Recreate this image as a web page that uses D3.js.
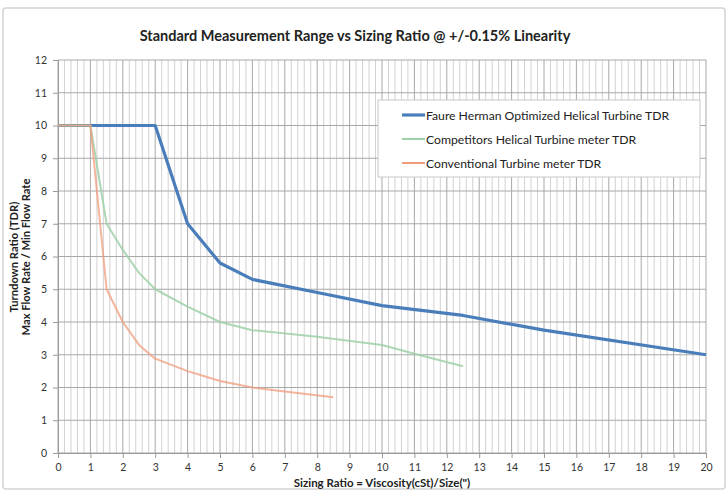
<!DOCTYPE html>
<html>
<head>
<meta charset="utf-8">
<script src="https://cdn.jsdelivr.net/npm/d3@7"></script>
<style>
  body { margin: 0; background: #fff; }
  text { font-family: Lato, "Open Sans", sans-serif; }
</style>
</head>
<body>
<div id="chart"></div>
<script>
const width = 728;
const height = 493;

// data
const faureX = [0, 1, 3, 4, 5, 6, 8, 10, 12.5, 15, 20];
const faureY = [10, 10, 10, 7, 5.8, 5.3, 4.9, 4.5, 4.2, 3.75, 3];
const compX = [0, 1, 1.5, 2, 2.5, 3, 4, 5, 6, 8, 10, 11, 12.5];
const compY = [10, 10, 7, 6.2, 5.5, 5, 4.47, 4, 3.75, 3.55, 3.3, 3.03, 2.65];
const convX = [0, 1, 1.5, 2, 2.5, 3, 4, 5, 6, 7, 8.5];
const convY = [10, 10, 5, 4, 3.3, 2.88, 2.5, 2.2, 2, 1.88, 1.7];

const seriesNames = [
    "Faure Herman Optimized Helical Turbine TDR",
    "Competitors Helical Turbine meter TDR",
    "Conventional Turbine meter TDR"
];
const seriesColors = ["#4a7ebb", "#9fd0a8", "#f29c7c"];
const xTicks = d3.range(0, 21, 1);
const yTicks = d3.range(0, 13, 1);

const series = [
    { name: seriesNames[0], color: seriesColors[0], width: 3.2, opacity: 1, pts: faureX.map((x, i) => ({ x: x, y: faureY[i] })) },
    { name: seriesNames[1], color: seriesColors[1], width: 2, opacity: 0.85, pts: compX.map((x, i) => ({ x: x, y: compY[i] })) },
    { name: seriesNames[2], color: seriesColors[2], width: 2, opacity: 0.75, pts: convX.map((x, i) => ({ x: x, y: convY[i] })) }
];

const xScale = d3.scaleLinear().domain([0, 20]).range([58, 706]);
const yScale = d3.scaleLinear().domain([0, 12]).range([453, 60]);

const svg = d3.select("#chart").append("svg").attr("width", width).attr("height", height);

// outer frame
svg.append("rect")
    .attr("x", 3).attr("y", 8)
    .attr("width", 722).attr("height", 481)
    .attr("rx", 3)
    .attr("fill", "#fff")
    .attr("stroke", "#d4d4d4")
    .attr("stroke-width", 1.5);

// title
svg.append("text")
    .attr("x", 355).attr("y", 41)
    .attr("text-anchor", "middle")
    .attr("font-size", 14.5)
    .attr("font-weight", "bold")
    .attr("fill", "#222")
    .text("Standard Measurement Range vs Sizing Ratio @ +/-0.15% Linearity");

// minor vertical grid (every 0.2)
const minor = d3.range(0, 100).map(i => i * 0.2).filter(v => Math.abs(v - Math.round(v)) > 0.01);
svg.append("g").selectAll("line")
    .data(minor)
    .join("line")
    .attr("x1", d => xScale(d)).attr("x2", d => xScale(d))
    .attr("y1", yScale(12)).attr("y2", yScale(0))
    .attr("stroke", "#d2d2d2")
    .attr("stroke-width", 1);

// major vertical grid
svg.append("g").selectAll("line")
    .data(xTicks)
    .join("line")
    .attr("x1", d => xScale(d)).attr("x2", d => xScale(d))
    .attr("y1", yScale(12)).attr("y2", yScale(0))
    .attr("stroke", "#a8a8a8")
    .attr("stroke-width", 1);

// horizontal grid
svg.append("g").selectAll("line")
    .data(yTicks)
    .join("line")
    .attr("x1", xScale(0)).attr("x2", xScale(20))
    .attr("y1", d => yScale(d)).attr("y2", d => yScale(d))
    .attr("stroke", "#a8a8a8")
    .attr("stroke-width", 1);

// axes
const xAxis = d3.axisBottom(xScale).tickValues(xTicks).tickSize(5).tickPadding(6);
const yAxis = d3.axisLeft(yScale).tickValues(yTicks).tickSize(5).tickPadding(6);

const gx = svg.append("g")
    .attr("transform", `translate(0,${yScale(0)})`)
    .call(xAxis);
const gy = svg.append("g")
    .attr("transform", `translate(${xScale(0)},0)`)
    .call(yAxis);

[gx, gy].forEach(g => {
    g.select(".domain").attr("stroke", "#9a9a9a");
    g.selectAll(".tick line").attr("stroke", "#9a9a9a");
    g.selectAll(".tick text")
        .attr("fill", "#333")
        .attr("font-size", 10.5)
        .attr("font-family", "Lato, 'Open Sans', sans-serif");
});

// axis titles
svg.append("text")
    .attr("x", 382).attr("y", 487)
    .attr("text-anchor", "middle")
    .attr("font-size", 11.5)
    .attr("font-weight", "bold")
    .attr("fill", "#222")
    .text("Sizing Ratio = Viscosity(cSt)/Size(\")");

svg.append("text")
    .attr("transform", "translate(18,257) rotate(-90)")
    .attr("text-anchor", "middle")
    .attr("font-size", 11.2)
    .attr("font-weight", "bold")
    .attr("fill", "#222")
    .text("Turndown Ratio (TDR)");

svg.append("text")
    .attr("transform", "translate(30,257) rotate(-90)")
    .attr("text-anchor", "middle")
    .attr("font-size", 11.2)
    .attr("font-weight", "bold")
    .attr("fill", "#222")
    .text("Max Flow Rate / Min Flow Rate");

// lines
const line = d3.line()
    .x(d => xScale(d.x))
    .y(d => yScale(d.y));

svg.append("g").selectAll("path")
    .data(series)
    .join("path")
    .attr("fill", "none")
    .attr("stroke", d => d.color)
    .attr("stroke-width", d => d.width)
    .attr("stroke-opacity", d => d.opacity)
    .attr("stroke-linejoin", "round")
    .attr("d", d => line(d.pts));

// legend
const legend = svg.append("g");
legend.append("rect")
    .attr("x", 378).attr("y", 100)
    .attr("width", 322).attr("height", 77)
    .attr("fill", "#fff")
    .attr("stroke", "#c8c8c8");

const items = legend.selectAll("g.item")
    .data(series)
    .join("g")
    .attr("class", "item")
    .attr("transform", (d, i) => `translate(402,${115 + i * 24})`);

items.append("line")
    .attr("x1", 0).attr("x2", 23)
    .attr("stroke", d => d.color)
    .attr("stroke-width", d => d.width);

items.append("text")
    .attr("x", 24).attr("y", 4.5)
    .attr("font-size", 12.2)
    .attr("fill", "#222")
    .text(d => d.name);
</script>
</body>
</html>
